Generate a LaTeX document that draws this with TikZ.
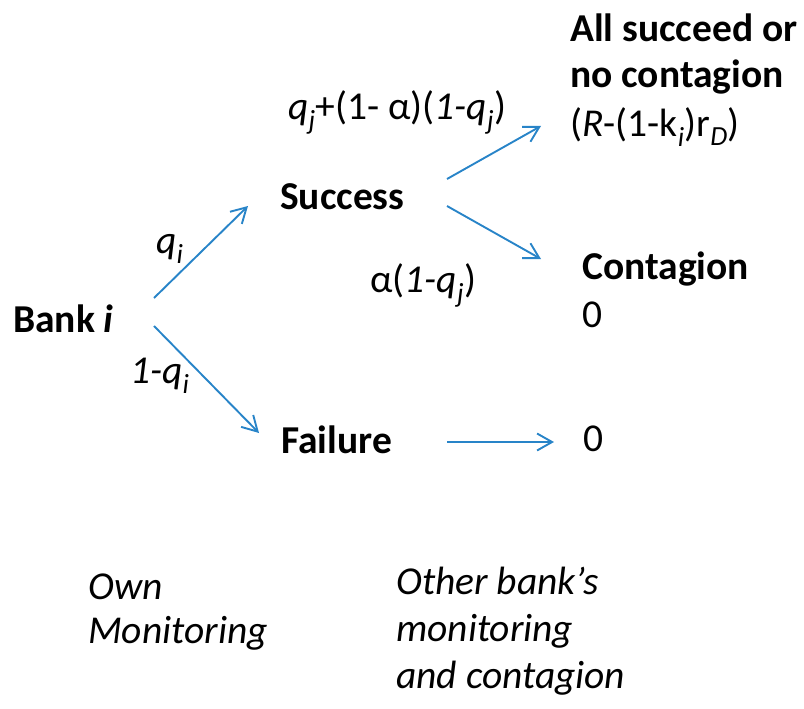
\documentclass[tikz,border=0pt]{standalone}
\usepackage{fontspec}
\setmainfont{Carlito}
\usetikzlibrary{arrows.meta}
\definecolor{arr}{RGB}{40,132,200}
\newcommand{\sbi}[1]{\textsubscript{\textit{#1}}}
\tikzset{
  lbl/.style={anchor=base west, inner sep=0pt, font=\fontsize{39.5}{44}\selectfont\bfseries},
  txt/.style={anchor=base west, inner sep=0pt, font=\fontsize{39.5}{44}\selectfont},
  itxt/.style={anchor=base west, inner sep=0pt, font=\fontsize{39.5}{44}\selectfont\itshape},
  arrowline/.style={draw=arr, line width=1.9pt, -{Straight Barb[length=15pt,width=17pt,line width=1.9pt]}}
}
\begin{document}
\begin{tikzpicture}[x=1pt,y=-1pt]
\useasboundingbox (0,0) rectangle (804,709);
% main nodes
\node[lbl] (bank) at (13,332) {Bank \textit{i}};
\node[lbl] (success) at (280,209) {Success};
\node[lbl] (failure) at (281,453) {Failure};
\node[lbl] (all1) at (570,42) {All succeed or};
\node[lbl] (all2) at (570,88) {no contagion};
\node[txt] (all3) at (570,136) {(\textit{R}-(1-k\sbi{i})r\sbi{D})};
\node[lbl] (cont) at (582,279) {Contagion};
\node[txt] (zero1) at (582,327) {0};
\node[txt] (zero2) at (583,451) {0};
% probability labels
\node[txt] (pqj) at (288,119) {\textit{q}\sbi{j}+(1- α)(\textit{1-q}\sbi{j})};
\node[txt] (palpha) at (370,292) {α(\textit{1-q}\sbi{j})};
\node[txt] (pqi) at (156,253) {\textit{q}\sbi{i}};
\node[txt] (p1qi) at (130,383) {\textit{1-q}\sbi{i}};
% captions
\node[itxt] (own1) at (88,599) {Own};
\node[itxt] (own2) at (88,643) {Monitoring};
\node[itxt] (oth1) at (396,594) {Other bank’s};
\node[itxt] (oth2) at (396,641) {monitoring};
\node[itxt] (oth3) at (396,688) {and contagion};
% arrow end points
\coordinate (b1) at (154,298);
\coordinate (s1) at (248,206);
\coordinate (b2) at (154,326);
\coordinate (f1) at (259,433);
\coordinate (s2) at (447,179);
\coordinate (a1) at (541,126);
\coordinate (s3) at (447,206);
\coordinate (c1) at (541,259);
\coordinate (f2) at (447,442);
\coordinate (z1) at (554,442);
\draw[arrowline] (b1) -- (s1);
\draw[arrowline] (b2) -- (f1);
\draw[arrowline] (s2) -- (a1);
\draw[arrowline] (s3) -- (c1);
\draw[arrowline] (f2) -- (z1);
\end{tikzpicture}
\end{document}
